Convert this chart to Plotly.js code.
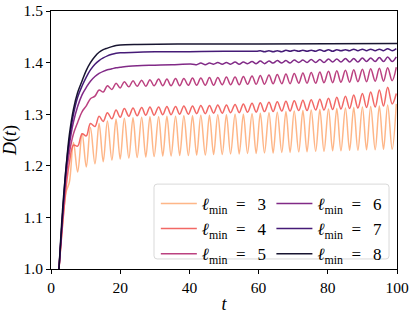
<!DOCTYPE html>
<html>
<head>
<meta charset="utf-8">
<script src="https://cdn.plot.ly/plotly-3.0.1.min.js"></script>
<style>html,body{margin:0;padding:0;background:#fff}#plot{width:415px;height:314px}</style>
</head>
<body>
<div id="plot"></div>
<script>
// grid of oscillation extremes (time)
const tGrid = [5.3, 6.5, 7.7, 9.0, 10.2, 11.4, 12.7, 13.9, 15.1, 16.3, 17.6, 18.8, 20.0, 21.2, 22.5, 23.7, 24.9, 26.2, 27.4, 28.6, 29.8, 31.1, 32.3, 33.5, 34.7, 36.0, 37.2, 38.4, 39.7, 40.9, 42.1, 43.3, 44.6, 45.8, 47.0, 48.2, 49.5, 50.7, 51.9, 53.2, 54.4, 55.6, 56.8, 58.1, 59.3, 60.5, 61.7, 63.0, 64.2, 65.4, 66.7, 67.9, 69.1, 70.3, 71.6, 72.8, 74.0, 75.2, 76.5, 77.7, 78.9, 80.2, 81.4, 82.6, 83.8, 85.1, 86.3, 87.5, 88.7, 90.0, 91.2, 92.4, 93.7, 94.9, 96.1, 97.3, 98.6, 99.8];

// l_min = 3
const t3 = [2.3, 3.4, 4.4].concat(tGrid);
const d3 = [1.0, 1.09, 1.15,
  1.168, 1.245, 1.188, 1.262, 1.198, 1.274, 1.204, 1.282, 1.208, 1.287, 1.211, 1.290, 1.213, 1.292, 1.215, 1.293, 1.216, 1.294, 1.217, 1.295, 1.218, 1.295, 1.219, 1.296, 1.219, 1.296, 1.220, 1.297, 1.220, 1.297, 1.221, 1.298, 1.221, 1.298, 1.222, 1.299, 1.222, 1.299, 1.223, 1.300, 1.223, 1.300, 1.224, 1.301, 1.224, 1.302, 1.225, 1.303, 1.225, 1.304, 1.226, 1.305, 1.226, 1.306, 1.227, 1.307, 1.227, 1.308, 1.228, 1.309, 1.228, 1.310, 1.229, 1.311, 1.229, 1.312, 1.230, 1.313, 1.230, 1.314, 1.231, 1.315, 1.231, 1.316, 1.232, 1.318, 1.232, 1.320];

// l_min = 4
const t4 = [2.3, 3.4, 4.4].concat(tGrid);
const d4 = [1.0, 1.09, 1.16,
  1.205, 1.240, 1.238, 1.262, 1.258, 1.282, 1.276, 1.296, 1.286, 1.303, 1.291, 1.308, 1.294, 1.311, 1.296, 1.312, 1.297, 1.313, 1.298, 1.314, 1.298, 1.314, 1.299, 1.315, 1.299, 1.315, 1.300, 1.316, 1.300, 1.316, 1.301, 1.317, 1.301, 1.317, 1.302, 1.318, 1.302, 1.318, 1.303, 1.319, 1.303, 1.320, 1.304, 1.321, 1.304, 1.322, 1.305, 1.323, 1.305, 1.324, 1.306, 1.325, 1.306, 1.326, 1.307, 1.327, 1.307, 1.328, 1.308, 1.329, 1.308, 1.331, 1.309, 1.333, 1.310, 1.335, 1.311, 1.337, 1.312, 1.340, 1.313, 1.343, 1.314, 1.347, 1.316, 1.352, 1.320, 1.340];

// l_min = 5
const t5 = [2.3, 3.4, 4.4].concat(tGrid);
const d5 = [1.0, 1.10, 1.18,
  1.225, 1.262, 1.284, 1.305, 1.316, 1.330, 1.335, 1.347, 1.343, 1.355, 1.348, 1.360, 1.351, 1.363, 1.353, 1.365, 1.354, 1.366, 1.354, 1.367, 1.355, 1.368, 1.355, 1.368, 1.355, 1.369, 1.355, 1.369, 1.356, 1.370, 1.356, 1.370, 1.356, 1.371, 1.356, 1.371, 1.357, 1.372, 1.357, 1.372, 1.357, 1.373, 1.358, 1.374, 1.358, 1.375, 1.358, 1.376, 1.359, 1.377, 1.359, 1.378, 1.359, 1.379, 1.360, 1.380, 1.360, 1.381, 1.360, 1.382, 1.361, 1.383, 1.361, 1.384, 1.362, 1.385, 1.362, 1.386, 1.363, 1.387, 1.363, 1.388, 1.364, 1.389, 1.364, 1.390, 1.365, 1.391];

// l_min = 6
const t6 = [2.3, 3.4, 4.4, 5.3, 6.5, 7.7, 9.0, 10.2, 11.4, 12.7, 13.9, 15.1, 16.3, 17.6, 18.8, 20.0, 22.5, 25.0, 30.0, 35.0, 40.9, 42.1, 43.3, 44.6, 45.8, 47.0, 48.2, 49.5, 50.7, 51.9, 53.2, 54.4, 55.6, 56.8, 58.1, 59.3, 60.5, 61.7, 63.0, 64.2, 65.4, 66.7, 67.9, 69.1, 70.3, 71.6, 72.8, 74.0, 75.2, 76.5, 77.7, 78.9, 80.2, 81.4, 82.6, 83.8, 85.1, 86.3, 87.5, 88.7, 90.0, 91.2, 92.4, 93.7, 94.9, 96.1, 97.3, 98.6, 99.8];
const d6 = [1.0, 1.11, 1.19, 1.24, 1.285, 1.315, 1.338, 1.352, 1.364, 1.373, 1.379, 1.383, 1.386, 1.388, 1.390, 1.391, 1.393, 1.394, 1.395, 1.396, 1.397, 1.396, 1.399, 1.396, 1.399, 1.397, 1.400, 1.397, 1.400, 1.397, 1.401, 1.397, 1.401, 1.398, 1.402, 1.398, 1.403, 1.398, 1.403, 1.399, 1.404, 1.399, 1.404, 1.399, 1.405, 1.400, 1.405, 1.400, 1.406, 1.400, 1.406, 1.400, 1.407, 1.401, 1.407, 1.401, 1.408, 1.401, 1.408, 1.401, 1.409, 1.402, 1.409, 1.402, 1.410, 1.402, 1.411, 1.402, 1.411];

// l_min = 7
const t7 = [2.3, 3.4, 4.4, 5.3, 6.5, 7.7, 9.0, 10.2, 11.4, 12.7, 13.9, 15.1, 16.3, 17.6, 18.8, 20.0, 25.0, 30.0, 40.0, 50.0, 59.3, 60.5, 61.7, 63.0, 64.2, 65.4, 66.7, 67.9, 69.1, 70.3, 71.6, 72.8, 74.0, 75.2, 76.5, 77.7, 78.9, 80.2, 81.4, 82.6, 83.8, 85.1, 86.3, 87.5, 88.7, 90.0, 91.2, 92.4, 93.7, 94.9, 96.1, 97.3, 98.6, 99.8];
const d7 = [1.0, 1.11, 1.20, 1.25, 1.30, 1.333, 1.355, 1.372, 1.386, 1.397, 1.404, 1.409, 1.413, 1.416, 1.418, 1.419, 1.420, 1.421, 1.421, 1.422, 1.422, 1.423, 1.421, 1.423, 1.421, 1.423, 1.421, 1.424, 1.422, 1.424, 1.422, 1.424, 1.422, 1.424, 1.422, 1.425, 1.422, 1.425, 1.422, 1.425, 1.423, 1.425, 1.423, 1.426, 1.423, 1.426, 1.423, 1.426, 1.423, 1.426, 1.423, 1.427, 1.423, 1.427];

// l_min = 8
const t8 = [2.3, 3.4, 4.4, 5.3, 6.5, 7.7, 9.0, 10.2, 11.4, 12.7, 13.9, 15.1, 16.3, 17.6, 18.8, 20.0, 25.0, 40.0, 60.0, 100.0];
const d8 = [1.0, 1.12, 1.20, 1.26, 1.31, 1.342, 1.365, 1.385, 1.400, 1.412, 1.420, 1.425, 1.428, 1.431, 1.433, 1.434, 1.435, 1.436, 1.436, 1.437];

const lmins = [3, 4, 5, 6, 7, 8];
const colors = ['#fea973', '#f1605d', '#b73779', '#7a1f81', '#3b0f70', '#0c0826'];
const xTicks = [0, 20, 40, 60, 80, 100];
const yTicks = [1.0, 1.1, 1.2, 1.3, 1.4, 1.5];

const ts = [t3, t4, t5, t6, t7, t8];
const ds = [d3, d4, d5, d6, d7, d8];

const traces = lmins.map((l, i) => ({
  x: ts[i], y: ds[i], type: 'scatter', mode: 'lines',
  name: '<i>ℓ</i><sub>min</sub>\u2002=\u2002\u2009' + l,
  legend: i < 3 ? 'legend' : 'legend2',
  line: {color: colors[i], width: 1.5, shape: 'spline', smoothing: 1},
  opacity: i === 0 ? 0.85 : 0.95
}));

const font = 'Liberation Serif, DejaVu Serif, serif';
const legendCommon = {
  orientation: 'v', xanchor: 'left', yanchor: 'top', y: 0.322,
  bgcolor: 'rgba(0,0,0,0)', borderwidth: 0, itemwidth: 36,
  font: {family: font, size: 17}, traceorder: 'normal', tracegroupgap: 0
};
// rounded legend frame (paper coordinates)
const bx0 = 0.2977, bx1 = 0.977, by0 = 0.039, by1 = 0.329, rx = 0.009, ry = 0.012;
const framePath = `M ${bx0 + rx},${by0} L ${bx1 - rx},${by0} Q ${bx1},${by0} ${bx1},${by0 + ry} L ${bx1},${by1 - ry} Q ${bx1},${by1} ${bx1 - rx},${by1} L ${bx0 + rx},${by1} Q ${bx0},${by1} ${bx0},${by1 - ry} L ${bx0},${by0 + ry} Q ${bx0},${by0} ${bx0 + rx},${by0} Z`;

const layout = {
  width: 415, height: 314,
  margin: {l: 51, r: 18, t: 11, b: 45},
  paper_bgcolor: '#fff', plot_bgcolor: '#fff',
  font: {family: font, size: 15.5, color: '#000'},
  showlegend: true,
  legend: Object.assign({}, legendCommon, {x: 0.303}),
  legend2: Object.assign({}, legendCommon, {x: 0.637}),
  shapes: [{
    type: 'path', xref: 'paper', yref: 'paper', layer: 'above', path: framePath,
    line: {color: '#d9d9d9', width: 1}, fillcolor: 'rgba(255,255,255,0.8)'
  }],
  xaxis: {
    range: [0, 100], tickvals: xTicks, ticktext: xTicks.map(String),
    showgrid: false, zeroline: false, showline: true, mirror: true,
    linecolor: '#000', linewidth: 1, ticks: 'outside', ticklen: 4, tickcolor: '#000',
    title: {text: '<i>t</i>', font: {size: 18}, standoff: 5}
  },
  yaxis: {
    range: [1.0, 1.5], tickvals: yTicks, ticktext: yTicks.map(v => v.toFixed(1)),
    showgrid: false, zeroline: false, showline: true, mirror: true,
    linecolor: '#000', linewidth: 1, ticks: 'outside', ticklen: 4, tickcolor: '#000',
    title: {text: '<i>D</i>(<i>t</i>)', font: {size: 18}, standoff: 3}
  }
};

Plotly.newPlot('plot', traces, layout, {displayModeBar: false, staticPlot: true});
</script>
</body>
</html>
